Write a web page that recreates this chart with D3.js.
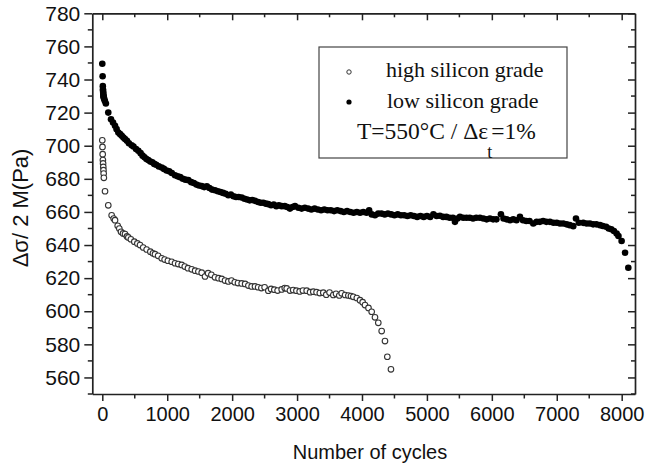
<!DOCTYPE html>
<html>
<head>
<meta charset="utf-8">
<script src="https://cdn.jsdelivr.net/npm/d3@7"></script>
<style>
  html, body { margin: 0; padding: 0; background: #fff; }
  svg { display: block; }
</style>
</head>
<body>
<svg id="chart" width="646" height="470"></svg>
<script>
// ---- data ----
const highCycles = [0, 3, 6, 9, 12, 15, 18, 21, 24, 42, 92, 144, 175, 196, 237, 262, 288, 320, 350, 380, 401, 440, 493, 540, 581, 630, 683, 740, 780, 812, 860, 915, 960, 1010, 1069, 1120, 1170, 1223, 1270, 1320, 1377, 1430, 1480, 1531, 1582, 1630, 1680, 1736, 1790, 1840, 1890, 1941, 1990, 2040, 2090, 2147, 2200, 2250, 2300, 2352, 2400, 2450, 2500, 2557, 2600, 2650, 2700, 2763, 2810, 2840, 2890, 2940, 2990, 3040, 3090, 3148, 3200, 3250, 3300, 3350, 3404, 3450, 3500, 3558, 3600, 3650, 3687, 3740, 3790, 3830, 3866, 3920, 3969, 4010, 4046, 4100, 4149, 4200, 4251, 4303, 4354, 4390, 4446];
const highStress = [703.3, 699.3, 694.9, 691.3, 689.3, 687.2, 685.2, 683.2, 680.6, 672.5, 664, 658, 656, 655, 651.6, 650, 648, 647, 646.6, 645.2, 644.6, 643.5, 642, 641, 640, 638.5, 637.3, 636, 635, 634.5, 633.5, 632, 631.2, 630.5, 629.9, 629, 628.5, 628, 627, 626, 625.3, 624.5, 624, 623.3, 621, 623, 622, 620.5, 620, 619.5, 618.5, 618, 618.5, 617.5, 617, 616.8, 616.5, 615.5, 615, 615, 614.5, 614, 614.5, 612.4, 613.5, 613, 612.5, 613.2, 614, 613.8, 612.5, 612.8, 612.4, 612, 612.5, 612.4, 611.5, 611.8, 611.5, 611, 611.2, 610, 611.3, 609.8, 610.5, 609.5, 610.8, 609.8, 609.5, 609.2, 608.7, 608, 606.7, 605.5, 603.7, 602, 599.7, 596.3, 593, 588, 582, 572.5, 564.9];

const lowCycles = [0, 5, 8, 10, 12, 14, 16, 18, 20, 25, 30, 40, 55, 92, 134, 165, 196, 220, 247, 275, 300, 325, 350, 380, 410, 452, 480, 520, 555, 590, 620, 650, 680, 708, 740, 770, 800, 830, 870, 915, 950, 990, 1030, 1070, 1120, 1160, 1200, 1240, 1280, 1325, 1370, 1410, 1450, 1490, 1531, 1570, 1610, 1650, 1690, 1736, 1780, 1820, 1860, 1900, 1941, 1980, 2020, 2060, 2100, 2147, 2190, 2230, 2270, 2310, 2352, 2400, 2440, 2480, 2520, 2557, 2600, 2640, 2680, 2720, 2763, 2810, 2850, 2890, 2930, 2968, 3020, 3070, 3120, 3170, 3220, 3270, 3320, 3370, 3420, 3470, 3520, 3570, 3620, 3670, 3720, 3770, 3820, 3870, 3920, 3970, 4020, 4070, 4110, 4150, 4200, 4250, 4300, 4350, 4400, 4450, 4500, 4550, 4600, 4650, 4700, 4750, 4800, 4850, 4900, 4950, 5000, 5050, 5100, 5150, 5200, 5250, 5300, 5350, 5400, 5432, 5470, 5509, 5560, 5610, 5660, 5710, 5760, 5817, 5870, 5920, 5970, 6020, 6070, 6140, 6180, 6228, 6280, 6330, 6380, 6433, 6480, 6530, 6580, 6638, 6690, 6740, 6790, 6840, 6895, 6950, 7000, 7050, 7100, 7152, 7200, 7254, 7296, 7340, 7408, 7460, 7510, 7560, 7610, 7666, 7710, 7760, 7800, 7840, 7880, 7922, 7950, 7999, 8052, 8102];
const lowStress = [749.5, 742, 736, 734, 733, 732, 731, 730, 729.5, 729, 728, 727, 725.5, 720, 716, 714, 712, 710, 708, 707, 706, 705, 704, 703, 701.5, 700.3, 699.5, 698, 697, 695.5, 694, 693, 692, 691.3, 690.5, 690, 689, 688.5, 687.5, 686.8, 686, 685, 684.5, 683.5, 682.2, 681.5, 681, 680, 679.5, 679.2, 678, 677.5, 676.5, 676, 675.6, 675, 675.5, 674.5, 673.5, 673.1, 672.5, 672, 671.5, 671, 670.1, 670.5, 669.5, 669, 669, 668.7, 668, 667.5, 667, 667.2, 666.7, 666, 665.5, 665.5, 665, 664.7, 664, 664.5, 663.5, 664, 663.5, 663.5, 663, 662, 663, 663.5, 662.5, 662, 662.5, 662, 661.5, 662, 661.5, 661, 661.5, 661, 661, 660.5, 661, 660.5, 660, 660.5, 660, 659.5, 660, 659.5, 660, 659.5, 661, 658.5, 658, 659, 659, 658.5, 659, 658.5, 658, 658.5, 658, 658, 657.5, 658, 657.5, 657, 657.5, 657, 657.5, 657, 658.5, 657.5, 657.7, 657, 657, 656.5, 656.5, 654, 656, 657, 656.5, 656.5, 656.5, 656, 656.5, 656.5, 656, 655.5, 656, 655.5, 655.5, 658.6, 656, 655.5, 655, 655.5, 655, 657, 655, 654.5, 654.5, 653, 654, 654, 654.5, 654, 654, 653.5, 653.5, 653, 653, 652.5, 652, 651.4, 656, 653.5, 653.4, 653, 653, 652.5, 652.5, 652, 651.5, 651, 650, 649.5, 648.5, 647, 645.5, 642.4, 635.3, 626.3];

const xTickValues = [0, 1000, 2000, 3000, 4000, 5000, 6000, 7000, 8000];
const yTickValues = [560, 580, 600, 620, 640, 660, 680, 700, 720, 740, 760, 780];
const seriesNames = ["high silicon grade", "low silicon grade"];
const xTitle = "Number of cycles";
const yTitle = "Δσ/ 2 M(Pa)";

// ---- drawing ----
const svg = d3.select("#chart");
const X0 = 92.3, X1 = 635, Y0 = 394, Y1 = 13.3;
const x = d3.scaleLinear().domain([-154, 8205]).range([X0, X1]);
const y = d3.scaleLinear().domain([550, 780]).range([Y0, Y1]);

const axisColor = "#222";
const sans = "'Liberation Sans', Arial, sans-serif";
const serif = "'Liberation Serif', 'Times New Roman', serif";

const xMinor = d3.range(0, 8001, 500).filter(v => v % 1000 !== 0);
const yMinor = d3.range(550, 781, 10).filter(v => v % 20 !== 0);

function styleAxis(g) {
  g.selectAll("path.domain").attr("stroke", axisColor).attr("stroke-width", 1.7);
  g.selectAll(".tick line").attr("stroke", axisColor).attr("stroke-width", 1.5);
}

// bottom axis
const gx = svg.append("g").attr("transform", `translate(0,${Y0})`)
  .call(d3.axisBottom(x).tickValues(xTickValues).tickSize(7).tickSizeOuter(0).tickPadding(6).tickFormat(d3.format("d")));
gx.call(styleAxis);
gx.selectAll("text").attr("font-family", sans).attr("font-size", 20).attr("fill", "#111");
gx.selectAll(".minor").data(xMinor).enter().append("line")
  .attr("x1", d => x(d)).attr("x2", d => x(d)).attr("y1", 0).attr("y2", 4.5)
  .attr("stroke", axisColor).attr("stroke-width", 1.5);

// top axis (mirror, inward ticks)
const gt = svg.append("g").attr("transform", `translate(0,${Y1})`)
  .call(d3.axisBottom(x).tickValues(xTickValues).tickSize(7).tickSizeOuter(0).tickFormat(""));
gt.call(styleAxis);
gt.selectAll(".minor").data(xMinor).enter().append("line")
  .attr("x1", d => x(d)).attr("x2", d => x(d)).attr("y1", 0).attr("y2", 4)
  .attr("stroke", axisColor).attr("stroke-width", 1.5);

// left axis
const gy = svg.append("g").attr("transform", `translate(${X0},0)`)
  .call(d3.axisLeft(y).tickValues(yTickValues).tickSize(8).tickSizeOuter(0).tickPadding(4).tickFormat(d3.format("d")));
gy.call(styleAxis);
gy.selectAll("text").attr("font-family", sans).attr("font-size", 21).attr("fill", "#111");
gy.selectAll(".minor").data(yMinor).enter().append("line")
  .attr("y1", d => y(d)).attr("y2", d => y(d)).attr("x1", 0).attr("x2", -4.5)
  .attr("stroke", axisColor).attr("stroke-width", 1.5);

// right axis (mirror, inward ticks)
const gr = svg.append("g").attr("transform", `translate(${X1},0)`)
  .call(d3.axisRight(y).tickValues(yTickValues).tickSize(-7).tickSizeOuter(0).tickFormat(""));
gr.call(styleAxis);
gr.selectAll(".minor").data(yMinor).enter().append("line")
  .attr("y1", d => y(d)).attr("y2", d => y(d)).attr("x1", 0).attr("x2", -4)
  .attr("stroke", axisColor).attr("stroke-width", 1.5);

// axis titles
svg.append("text").attr("x", 370).attr("y", 459).attr("text-anchor", "middle")
  .attr("font-family", sans).attr("font-size", 20).attr("fill", "#111").text(xTitle);
svg.append("text").attr("transform", "translate(28,208) rotate(-90)").attr("text-anchor", "middle")
  .attr("font-family", sans).attr("font-size", 22).attr("fill", "#111").text(yTitle);

// data
const low = lowCycles.map((c, i) => ({c, s: lowStress[i]}));
const high = highCycles.map((c, i) => ({c, s: highStress[i]}));

svg.append("g").selectAll("circle").data(low).enter().append("circle")
  .attr("cx", d => x(d.c)).attr("cy", d => y(d.s)).attr("r", 3.3)
  .attr("fill", "#000");

svg.append("g").selectAll("circle").data(high).enter().append("circle")
  .attr("cx", d => x(d.c)).attr("cy", d => y(d.s)).attr("r", 2.8)
  .attr("fill", "#fff").attr("stroke", "#333").attr("stroke-width", 1.1);

// legend
const lg = svg.append("g");
lg.append("rect").attr("x", 319).attr("y", 47).attr("width", 248).attr("height", 111)
  .attr("fill", "#fff").attr("stroke", "#444").attr("stroke-width", 1.2);
lg.append("circle").attr("cx", 349).attr("cy", 72).attr("r", 2.2)
  .attr("fill", "#fff").attr("stroke", "#333").attr("stroke-width", 1);
lg.append("circle").attr("cx", 349).attr("cy", 102).attr("r", 2.6).attr("fill", "#000");
lg.append("text").attr("x", 386).attr("y", 77).attr("font-family", serif).attr("font-size", 22)
  .attr("fill", "#111").text(seriesNames[0]);
lg.append("text").attr("x", 387).attr("y", 108).attr("font-family", serif).attr("font-size", 22)
  .attr("fill", "#111").text(seriesNames[1]);
const t3 = lg.append("text").attr("x", 357).attr("y", 139).attr("font-family", serif).attr("font-size", 23.5).attr("fill", "#111");
t3.append("tspan").text("T=550°C / Δε");
t3.append("tspan").attr("dy", 19).attr("dx", -1).attr("font-size", 18).attr("fill", "#111").text("t");
t3.append("tspan").attr("dy", -19).attr("dx", -1).text("=1%");
</script>
</body>
</html>
